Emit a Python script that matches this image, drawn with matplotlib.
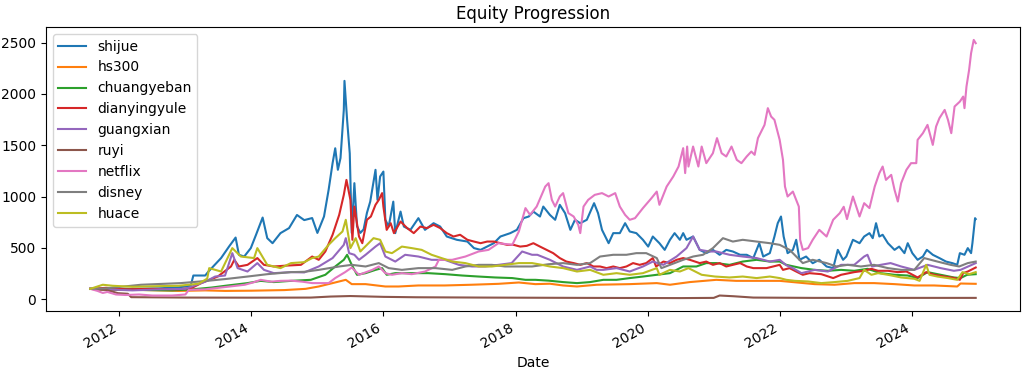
"""
Equity progression of several stocks / indices (normalised to 100 at start).
"""

import matplotlib
matplotlib.use("Agg")
import matplotlib.pyplot as plt
import matplotlib.dates as mdates
import pandas as pd

# dates are fractional years, values off the y axis
shijue_t = [2011.56, 2011.8, 2012.2, 2012.6, 2012.9, 2013.08, 2013.12, 2013.3, 2013.35, 2013.54,
            2013.66, 2013.76, 2013.81, 2013.89, 2013.99, 2014.07, 2014.17, 2014.24, 2014.32, 2014.44,
            2014.57, 2014.69, 2014.8, 2014.92, 2015.0, 2015.1, 2015.17, 2015.23, 2015.27, 2015.31,
            2015.35, 2015.4, 2015.41, 2015.45, 2015.49, 2015.52, 2015.56, 2015.6, 2015.65, 2015.7,
            2015.75, 2015.8, 2015.88, 2015.91, 2015.95, 2016.0, 2016.03, 2016.08, 2016.15, 2016.18,
            2016.26, 2016.31, 2016.41, 2016.53, 2016.63, 2016.76, 2016.86, 2016.96, 2017.11, 2017.27,
            2017.37, 2017.47, 2017.57, 2017.67, 2017.77, 2017.92, 2018.02, 2018.12, 2018.2, 2018.27,
            2018.37, 2018.42, 2018.52, 2018.6, 2018.67, 2018.75, 2018.83, 2018.9, 2018.98, 2019.08,
            2019.19, 2019.25, 2019.31, 2019.41, 2019.48, 2019.58, 2019.66, 2019.73, 2019.83, 2019.93,
            2020.01, 2020.08, 2020.18, 2020.26, 2020.34, 2020.41, 2020.49, 2020.54, 2020.59, 2020.69,
            2020.79, 2020.89, 2020.99, 2021.09, 2021.19, 2021.29, 2021.4, 2021.5, 2021.6, 2021.69,
            2021.75, 2021.85, 2021.92, 2021.97, 2022.02, 2022.06, 2022.12, 2022.2, 2022.25, 2022.3,
            2022.4, 2022.5, 2022.6, 2022.71, 2022.81, 2022.88, 2022.96, 2023.01, 2023.11, 2023.21,
            2023.28, 2023.36, 2023.41, 2023.46, 2023.51, 2023.56, 2023.64, 2023.74, 2023.81, 2023.89,
            2023.94, 2024.01, 2024.09, 2024.17, 2024.23, 2024.32, 2024.42, 2024.52, 2024.62, 2024.69,
            2024.73, 2024.8, 2024.85, 2024.9, 2024.92, 2024.96, 2024.97]
shijue_v = [100, 95, 100, 105, 115, 130, 230, 230, 270, 400,
            512, 600, 432, 415, 497, 627, 795, 594, 545, 643,
            692, 820, 770, 790, 645, 805, 1065, 1325, 1470, 1260,
            1375, 1845, 2127, 1745, 1420, 645, 1130, 710, 645, 680,
            840, 950, 1260, 967, 1195, 1243, 773, 707, 950, 643,
            853, 707, 675, 789, 675, 740, 707, 610, 578, 561,
            497, 480, 512, 545, 610, 643, 675, 789, 805, 853,
            805, 902, 821, 773, 919, 838, 675, 773, 740, 773,
            935, 838, 675, 545, 643, 643, 740, 659, 643, 578,
            512, 610, 545, 480, 578, 643, 578, 643, 578, 610,
            480, 448, 480, 432, 480, 464, 432, 432, 400, 545,
            415, 448, 610, 740, 805, 610, 448, 480, 578, 383,
            415, 350, 383, 318, 302, 480, 383, 415, 578, 545,
            610, 643, 594, 740, 610, 627, 545, 480, 512, 448,
            545, 448, 383, 415, 480, 432, 400, 366, 350, 334,
            448, 432, 497, 448, 545, 789, 780]

hs300_t = [2011.56, 2011.8, 2012.3, 2012.9, 2013.3, 2013.6, 2014.0, 2014.5, 2014.82, 2015.02,
           2015.23, 2015.43, 2015.52, 2015.73, 2016.03, 2016.23, 2016.53, 2016.93, 2017.33, 2017.74,
           2018.05, 2018.3, 2018.52, 2018.72, 2018.93, 2019.23, 2019.73, 2020.14, 2020.34, 2020.64,
           2021.04, 2021.34, 2021.65, 2022.0, 2022.2, 2022.53, 2022.83, 2023.13, 2023.43, 2023.74,
           2024.04, 2024.34, 2024.69, 2024.74, 2024.97]
hs300_v = [100, 90, 90, 80, 85, 80, 82, 88, 100, 123,
           156, 188, 146, 146, 123, 123, 133, 133, 140, 149,
           162, 146, 150, 133, 123, 140, 146, 156, 140, 166,
           188, 178, 178, 178, 166, 146, 140, 156, 156, 146,
           133, 133, 123, 152, 149]

chuangyeban_t = [2011.56, 2011.8, 2012.2, 2012.8, 2013.1, 2013.4, 2013.64, 2013.94, 2014.14, 2014.34,
                 2014.6, 2014.9, 2015.12, 2015.27, 2015.4, 2015.45, 2015.52, 2015.6, 2015.73, 2015.88,
                 2015.98, 2016.05, 2016.18, 2016.43, 2016.68, 2016.94, 2017.19, 2017.44, 2017.69, 2017.95,
                 2018.15, 2018.3, 2018.5, 2018.72, 2018.93, 2019.13, 2019.33, 2019.53, 2019.73, 2019.93,
                 2020.14, 2020.34, 2020.54, 2020.74, 2020.89, 2021.04, 2021.24, 2021.44, 2021.65, 2021.85,
                 2022.0, 2022.1, 2022.33, 2022.53, 2022.73, 2022.93, 2023.13, 2023.33, 2023.53, 2023.74,
                 2023.94, 2024.09, 2024.24, 2024.44, 2024.64, 2024.74, 2024.84, 2024.97]
chuangyeban_v = [100, 95, 90, 85, 95, 113, 133, 156, 178, 166,
                 178, 188, 237, 318, 383, 432, 334, 237, 253, 285,
                 302, 237, 253, 253, 253, 243, 230, 220, 211, 205,
                 188, 188, 180, 166, 156, 166, 188, 188, 205, 220,
                 237, 253, 318, 318, 351, 351, 334, 366, 383, 366,
                 366, 334, 302, 285, 276, 285, 276, 295, 253, 237,
                 230, 205, 263, 237, 211, 205, 237, 243]

dianyingyule_t = [2011.56, 2011.8, 2012.1, 2012.5, 2012.9, 2013.1, 2013.24, 2013.49, 2013.69, 2013.74,
                  2013.81, 2013.94, 2014.09, 2014.19, 2014.34, 2014.54, 2014.75, 2014.92, 2015.02, 2015.12,
                  2015.23, 2015.33, 2015.4, 2015.44, 2015.5, 2015.53, 2015.56, 2015.63, 2015.68, 2015.75,
                  2015.81, 2015.88, 2015.93, 2015.98, 2016.0, 2016.05, 2016.11, 2016.16, 2016.26, 2016.36,
                  2016.46, 2016.56, 2016.66, 2016.76, 2016.86, 2016.96, 2017.06, 2017.16, 2017.27, 2017.37,
                  2017.47, 2017.57, 2017.67, 2017.77, 2017.87, 2017.97, 2018.07, 2018.17, 2018.27, 2018.37,
                  2018.47, 2018.57, 2018.67, 2018.77, 2018.88, 2018.98, 2019.08, 2019.18, 2019.28, 2019.38,
                  2019.48, 2019.58, 2019.68, 2019.78, 2019.88, 2019.98, 2020.08, 2020.13, 2020.24, 2020.34,
                  2020.44, 2020.54, 2020.64, 2020.79, 2020.89, 2020.99, 2021.09, 2021.19, 2021.29, 2021.4,
                  2021.5, 2021.6, 2021.7, 2021.8, 2021.9, 2022.0, 2022.05, 2022.15, 2022.25, 2022.35,
                  2022.45, 2022.63, 2022.81, 2022.93, 2023.13, 2023.28, 2023.39, 2023.49, 2023.64, 2023.79,
                  2023.92, 2024.09, 2024.22, 2024.34, 2024.5, 2024.65, 2024.73, 2024.78, 2024.85, 2024.97]
dianyingyule_v = [100, 110, 95, 100, 95, 110, 156, 220, 318, 383,
                  318, 334, 400, 334, 318, 327, 334, 415, 383, 464,
                  627, 821, 1016, 1162, 967, 578, 902, 610, 545, 773,
                  805, 919, 967, 1033, 902, 675, 740, 643, 756, 692,
                  643, 707, 692, 724, 692, 643, 610, 627, 578, 561,
                  545, 561, 561, 545, 529, 529, 512, 519, 545, 512,
                  480, 448, 400, 366, 351, 334, 351, 318, 318, 302,
                  318, 302, 318, 351, 334, 351, 400, 318, 366, 351,
                  383, 400, 383, 351, 366, 334, 351, 318, 334, 351,
                  318, 302, 302, 302, 318, 334, 285, 302, 269, 237,
                  253, 243, 205, 237, 263, 276, 295, 276, 276, 263,
                  269, 211, 263, 237, 220, 205, 188, 253, 269, 308]

guangxian_t = [2011.56, 2011.8, 2012.2, 2012.6, 2013.0, 2013.3, 2013.45, 2013.6, 2013.71, 2013.79,
               2013.94, 2014.09, 2014.19, 2014.34, 2014.6, 2014.8, 2015.02, 2015.23, 2015.4, 2015.43,
               2015.48, 2015.56, 2015.63, 2015.73, 2015.88, 2015.95, 2016.03, 2016.18, 2016.33, 2016.53,
               2016.73, 2016.93, 2017.14, 2017.34, 2017.54, 2017.74, 2017.94, 2018.1, 2018.25, 2018.33,
               2018.52, 2018.72, 2018.93, 2019.13, 2019.23, 2019.33, 2019.53, 2019.73, 2019.93, 2020.08,
               2020.24, 2020.44, 2020.59, 2020.69, 2020.79, 2020.94, 2021.04, 2021.24, 2021.44, 2021.65,
               2021.85, 2022.0, 2022.1, 2022.2, 2022.33, 2022.53, 2022.73, 2022.93, 2023.13, 2023.28,
               2023.33, 2023.4, 2023.53, 2023.68, 2023.84, 2024.04, 2024.24, 2024.44, 2024.64, 2024.74,
               2024.97]
guangxian_v = [100, 95, 85, 95, 100, 170, 220, 230, 448, 302,
               269, 351, 285, 253, 263, 260, 318, 400, 529, 594,
               448, 432, 383, 432, 512, 545, 415, 366, 432, 415,
               383, 383, 334, 318, 318, 334, 351, 464, 432, 432,
               383, 318, 285, 318, 285, 285, 302, 269, 318, 366,
               334, 415, 497, 610, 480, 464, 464, 432, 415, 400,
               366, 383, 330, 302, 253, 285, 269, 334, 334, 415,
               432, 318, 334, 351, 318, 285, 334, 302, 276, 285,
               351]

ruyi_t = [2011.56, 2011.8, 2011.98, 2012.13, 2012.18, 2013.0, 2014.0, 2014.9, 2015.2, 2015.5,
          2016.0, 2016.5, 2017.5, 2019.0, 2020.5, 2021.0, 2021.09, 2021.3, 2021.6, 2022.5,
          2024.97]
ruyi_v = [100, 90, 58, 52, 19, 15, 14, 15, 25, 30,
          22, 18, 15, 12, 10, 12, 35, 28, 15, 12,
          12]

netflix_t = [2011.56, 2011.67, 2011.75, 2011.82, 2011.95, 2012.1, 2012.3, 2012.5, 2012.8, 2013.0,
             2013.05, 2013.3, 2013.5, 2013.7, 2013.9, 2014.04, 2014.14, 2014.3, 2014.44, 2014.6,
             2014.77, 2014.92, 2015.17, 2015.27, 2015.42, 2015.52, 2015.63, 2015.83, 2015.93, 2016.03,
             2016.13, 2016.28, 2016.43, 2016.63, 2016.79, 2016.84, 2017.04, 2017.24, 2017.44, 2017.59,
             2017.74, 2017.95, 2018.05, 2018.15, 2018.22, 2018.32, 2018.45, 2018.5, 2018.55, 2018.6,
             2018.67, 2018.72, 2018.8, 2018.88, 2018.95, 2018.98, 2019.03, 2019.1, 2019.2, 2019.31,
             2019.41, 2019.51, 2019.58, 2019.66, 2019.73, 2019.81, 2019.93, 2020.06, 2020.14, 2020.18,
             2020.29, 2020.39, 2020.47, 2020.54, 2020.57, 2020.6, 2020.62, 2020.69, 2020.77, 2020.82,
             2020.89, 2020.99, 2021.05, 2021.12, 2021.19, 2021.27, 2021.35, 2021.42, 2021.5, 2021.57,
             2021.62, 2021.67, 2021.77, 2021.82, 2021.87, 2021.92, 2022.0, 2022.05, 2022.08, 2022.12,
             2022.2, 2022.25, 2022.29, 2022.31, 2022.35, 2022.43, 2022.5, 2022.6, 2022.71, 2022.81,
             2022.91, 2022.97, 2023.02, 2023.11, 2023.21, 2023.28, 2023.36, 2023.44, 2023.51, 2023.56,
             2023.61, 2023.69, 2023.74, 2023.79, 2023.84, 2023.92, 2023.99, 2024.07, 2024.09, 2024.17,
             2024.24, 2024.32, 2024.37, 2024.42, 2024.5, 2024.55, 2024.6, 2024.65, 2024.73, 2024.78,
             2024.8, 2024.83, 2024.87, 2024.9, 2024.94, 2024.97]
netflix_v = [100, 80, 60, 70, 45, 40, 45, 35, 35, 45,
             90, 95, 110, 125, 140, 165, 188, 170, 178, 180,
             170, 156, 156, 205, 263, 308, 237, 285, 318, 253,
             237, 253, 243, 269, 318, 383, 383, 415, 464, 480,
             545, 529, 659, 887, 821, 902, 1097, 1130, 967, 902,
             1000, 1033, 838, 805, 724, 643, 902, 967, 1016, 1033,
             1000, 1033, 902, 821, 773, 789, 887, 984, 1048, 919,
             1097, 1195, 1292, 1471, 1228, 1487, 1292, 1487, 1292, 1487,
             1325, 1422, 1569, 1422, 1390, 1487, 1357, 1325, 1390, 1438,
             1406, 1569, 1698, 1861, 1779, 1747, 1552, 1357, 1097, 1000,
             1048, 967, 902, 578, 480, 497, 578, 675, 610, 773,
             838, 900, 780, 1000, 805, 935, 887, 1097, 1228, 1292,
             1162, 1211, 1065, 951, 1130, 1260, 1325, 1325, 1552, 1617,
             1698, 1503, 1682, 1763, 1844, 1747, 1617, 1877, 1925, 1974,
             1861, 2071, 2234, 2397, 2526, 2494]

disney_t = [2011.56, 2011.8, 2012.33, 2012.93, 2013.33, 2013.64, 2013.94, 2014.24, 2014.6, 2014.8,
            2015.02, 2015.33, 2015.52, 2015.73, 2015.93, 2016.08, 2016.28, 2016.53, 2016.79, 2017.04,
            2017.24, 2017.44, 2017.64, 2017.84, 2018.05, 2018.25, 2018.5, 2018.72, 2018.93, 2019.13,
            2019.28, 2019.48, 2019.68, 2019.83, 2019.98, 2020.14, 2020.21, 2020.34, 2020.54, 2020.69,
            2020.84, 2020.99, 2021.14, 2021.29, 2021.44, 2021.65, 2021.85, 2022.0, 2022.15, 2022.35,
            2022.5, 2022.71, 2022.86, 2023.03, 2023.23, 2023.43, 2023.64, 2023.84, 2024.04, 2024.19,
            2024.39, 2024.59, 2024.72, 2024.85, 2024.97]
disney_v = [100, 105, 140, 156, 178, 198, 220, 243, 263, 266,
            285, 318, 334, 318, 351, 302, 285, 302, 302, 285,
            318, 334, 334, 318, 318, 318, 340, 351, 334, 351,
            415, 432, 432, 448, 448, 400, 302, 334, 383, 415,
            432, 497, 594, 561, 578, 561, 545, 529, 480, 351,
            383, 351, 318, 334, 318, 334, 302, 285, 285, 400,
            366, 334, 318, 351, 366]

huace_t = [2011.56, 2011.75, 2011.9, 2012.2, 2012.5, 2012.9, 2013.2, 2013.33, 2013.36, 2013.54,
           2013.71, 2013.84, 2014.04, 2014.09, 2014.24, 2014.44, 2014.6, 2014.8, 2014.92, 2015.02,
           2015.17, 2015.27, 2015.38, 2015.43, 2015.45, 2015.5, 2015.58, 2015.65, 2015.75, 2015.85,
           2015.95, 2016.03, 2016.13, 2016.28, 2016.43, 2016.58, 2016.73, 2016.88, 2017.04, 2017.24,
           2017.44, 2017.64, 2017.84, 2018.05, 2018.25, 2018.4, 2018.52, 2018.72, 2018.93, 2019.13,
           2019.33, 2019.53, 2019.73, 2019.93, 2020.14, 2020.18, 2020.34, 2020.49, 2020.62, 2020.82,
           2021.02, 2021.24, 2021.44, 2021.65, 2021.85, 2022.0, 2022.1, 2022.23, 2022.43, 2022.63,
           2022.83, 2023.03, 2023.21, 2023.28, 2023.39, 2023.49, 2023.64, 2023.84, 2024.04, 2024.12,
           2024.22, 2024.27, 2024.39, 2024.55, 2024.69, 2024.77, 2024.87, 2024.97]
huace_v = [100, 140, 130, 120, 125, 130, 150, 200, 302, 269,
           497, 415, 400, 497, 334, 302, 351, 360, 400, 415,
           529, 594, 659, 773, 692, 497, 594, 464, 529, 594,
           578, 464, 448, 512, 497, 480, 432, 400, 366, 351,
           318, 318, 334, 351, 351, 334, 318, 302, 269, 285,
           237, 253, 237, 253, 302, 237, 285, 269, 302, 237,
           220, 211, 220, 205, 220, 205, 188, 178, 172, 156,
           166, 178, 205, 285, 237, 253, 237, 211, 198, 178,
           334, 237, 220, 205, 188, 263, 243, 263]

series_names = ["shijue", "hs300", "chuangyeban", "dianyingyule", "guangxian",
                "ruyi", "netflix", "disney", "huace"]
series_data = [(shijue_t, shijue_v), (hs300_t, hs300_v), (chuangyeban_t, chuangyeban_v),
               (dianyingyule_t, dianyingyule_v), (guangxian_t, guangxian_v), (ruyi_t, ruyi_v),
               (netflix_t, netflix_v), (disney_t, disney_v), (huace_t, huace_v)]


def to_dates(years):
    # fractional year -> timestamp
    return [pd.Timestamp(int(y), 1, 1) + pd.Timedelta(days=(y - int(y)) * 365.25) for y in years]


fig, ax = plt.subplots(figsize=(10.33, 3.68), dpi=100)
fig.subplots_adjust(left=0.0445, right=0.9874, top=0.9266, bottom=0.1549)

for name, (t, v) in zip(series_names, series_data):
    ax.plot(to_dates(t), v, label=name)

ax.xaxis.set_major_locator(mdates.YearLocator(2))
ax.xaxis.set_major_formatter(mdates.DateFormatter("%Y"))
for lbl in ax.get_xticklabels():
    lbl.set_rotation(30)
    lbl.set_horizontalalignment("right")

ax.set_title("Equity Progression")
ax.set_xlabel("Date")
ax.legend(loc="upper left")

fig.savefig("out.png", dpi=100)
